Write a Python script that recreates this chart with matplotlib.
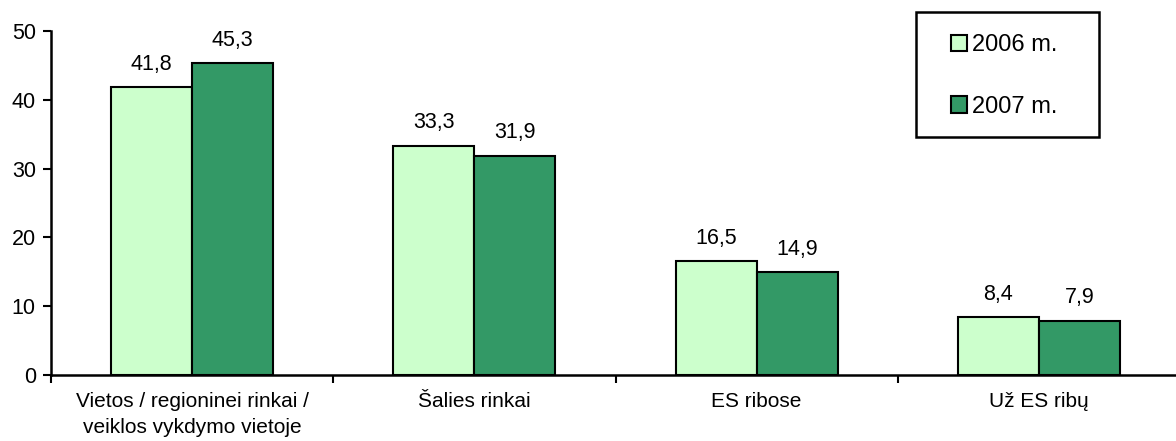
import matplotlib.pyplot as plt
import matplotlib.patches as mpatches
import numpy as np

plt.rcParams['font.family'] = ['Liberation Sans', 'DejaVu Sans']

categories = ["Vietos / regioninei rinkai /\nveiklos vykdymo vietoje", "Šalies rinkai",
              "ES ribose", "Už ES ribų"]
vals_2006 = [41.8, 33.3, 16.5, 8.4]
vals_2007 = [45.3, 31.9, 14.9, 7.9]
series = ["2006 m.", "2007 m."]

fig = plt.figure(figsize=(11.76, 4.41), dpi=100)
ax = fig.add_axes([0.0434, 0.1497, 0.96, 0.78])

x = np.arange(len(categories))
w = 0.287
b1 = ax.bar(x - w / 2, vals_2006, w, color="#CCFFCC", edgecolor="black", linewidth=1.5, label=series[0])
b2 = ax.bar(x + w / 2, vals_2007, w, color="#339966", edgecolor="black", linewidth=1.5, label=series[1])

fmt = lambda v: f"{v:.1f}".replace(".", ",")
ax.bar_label(b1, labels=[fmt(v) for v in vals_2006], padding=9, fontsize=15.5)
ax.bar_label(b2, labels=[fmt(v) for v in vals_2007], padding=9, fontsize=15.5)

ax.set_xlim(-0.5, len(categories) - 0.5)
ax.set_ylim(0, 50)
ax.set_yticks(range(0, 51, 10))
ax.tick_params(axis='y', direction='out', length=6, width=1.5, labelsize=15.5, pad=5)

ax.set_xticks(x)
ax.set_xticklabels(categories, fontsize=15, linespacing=1.5)
ax.tick_params(axis='x', which='major', length=0, pad=12)
ax.set_xticks(np.arange(-0.5, len(categories), 1.0), minor=True)
ax.tick_params(axis='x', which='minor', direction='out', length=6, width=1.5)

for s in ['top', 'right']:
    ax.spines[s].set_visible(False)
for s in ['left', 'bottom']:
    ax.spines[s].set_linewidth(1.8)

# legend frame box
fig.patches.append(mpatches.Rectangle((916 / 1176, 1 - 137 / 441), 183 / 1176, 125 / 441,
                                      transform=fig.transFigure, fill=False,
                                      edgecolor="black", linewidth=1.8))
leg = fig.legend(loc='upper left', bbox_to_anchor=(951 / 1176, 1 - 34 / 441), fontsize=17,
                 frameon=False, handlelength=0.68, handleheight=0.68,
                 handletextpad=0.2, labelspacing=1.68, borderpad=0, borderaxespad=0)

fig.savefig("out.png", dpi=100)
